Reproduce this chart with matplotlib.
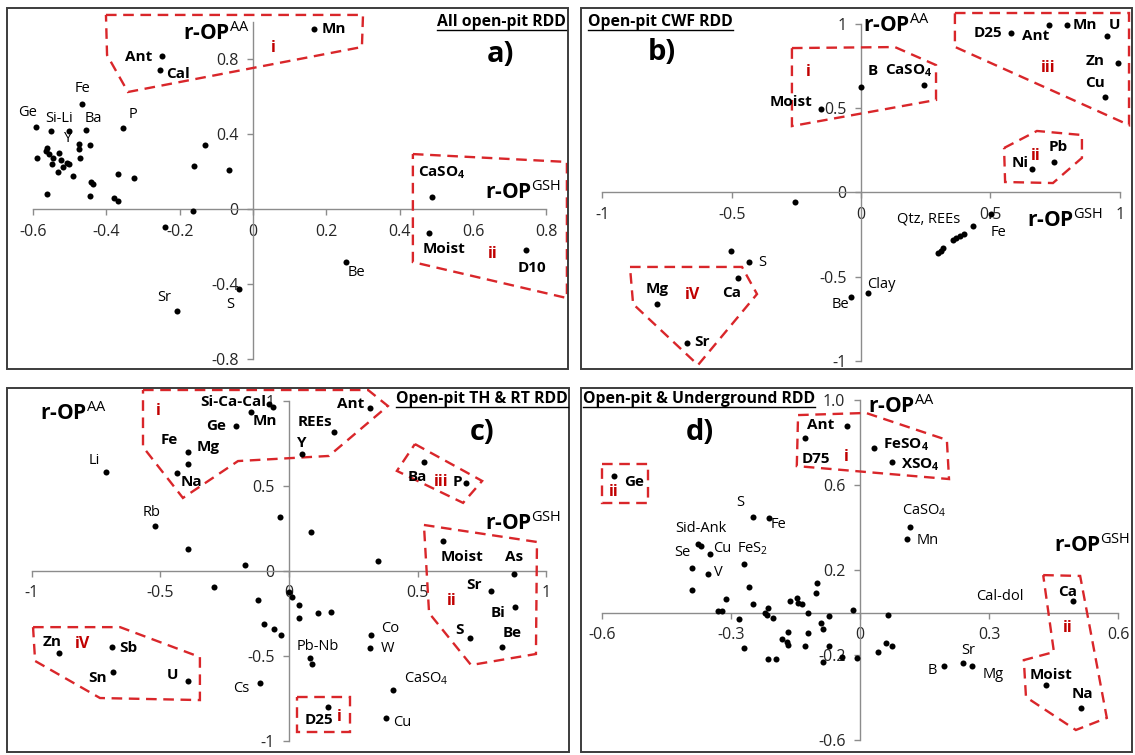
import matplotlib
matplotlib.use("Agg")
import matplotlib.pyplot as plt
from matplotlib.patches import Polygon, Rectangle
from matplotlib.lines import Line2D

plt.rcParams.update({
    "font.family": "Open Sans",
    "mathtext.fontset": "custom",
    "mathtext.rm": "Open Sans",
    "mathtext.bf": "Open Sans:bold",
    "mathtext.it": "Open Sans:italic",
})

W, H = 1135, 755
DASH_RED = "#D9262A"
TEXT_RED = "#C00000"
AXIS_GREY = "#8C8C8C"

# ---------------- panel a: all open-pit RDD ----------------
a_x = [-0.247, -0.253, 0.166, -0.467, -0.593, -0.552, -0.503, -0.455, -0.354,
       -0.206, -0.037, 0.253, 0.487, 0.480, 0.744,
       -0.474, -0.445, -0.475, -0.130, -0.590, -0.561, -0.564, -0.555, -0.528,
       -0.545, -0.548, -0.523, -0.508, -0.501, -0.519, -0.531, -0.471, -0.490,
       -0.369, -0.324, -0.160, -0.442, -0.437, -0.563, -0.445, -0.379, -0.369,
       -0.164, -0.065, -0.239]
a_y = [0.818, 0.743, 0.958, 0.558, 0.439, 0.416, 0.416, 0.420, 0.434,
       -0.542, -0.428, -0.281, 0.062, -0.130, -0.219,
       0.345, 0.341, 0.318, 0.341, 0.274, 0.324, 0.309, 0.292, 0.297,
       0.270, 0.240, 0.261, 0.244, 0.238, 0.226, 0.199, 0.270, 0.178,
       0.188, 0.164, 0.228, 0.142, 0.133, 0.080, 0.071, 0.057, 0.044,
       -0.011, 0.208, -0.096]
a_xticks = [-0.6, -0.4, -0.2, 0, 0.2, 0.4, 0.6, 0.8]
a_xticklabels = ["-0.6", "-0.4", "-0.2", "0", "0.2", "0.4", "0.6", "0.8"]
a_yticks = [-0.8, -0.4, 0, 0.4, 0.8]
a_yticklabels = ["-0.8", "-0.4", "0", "0.4", "0.8"]
a_groups = [
    [(-0.401, 1.035), (0.300, 1.035), (0.297, 0.864), (-0.341, 0.624), (-0.398, 0.821)],
    [(0.436, 0.293), (0.856, 0.251), (0.856, -0.475), (0.436, -0.283)],
]

# ---------------- panel b: open-pit CWF RDD ----------------
b_x = [-0.155, 0.000, 0.244, 0.580, 0.726, 0.798, 0.950, 0.995, 0.943, 0.746,
       0.660, 0.501, 0.026, -0.040, -0.433, -0.477, -0.790, -0.674,
       -0.255, -0.503, 0.434, 0.398, 0.383, 0.367, 0.357, 0.318, 0.309, 0.299]
b_y = [0.494, 0.627, 0.637, 0.944, 0.990, 0.995, 0.928, 0.769, 0.567, 0.178,
       0.137, -0.129, -0.600, -0.623, -0.412, -0.507, -0.663, -0.893,
       -0.059, -0.347, -0.200, -0.247, -0.259, -0.271, -0.283, -0.332, -0.347, -0.358]
b_ticks = [-1, -0.5, 0, 0.5, 1]
b_ticklabels = ["-1", "-0.5", "0", "0.5", "1"]
b_groups = [
    [(-0.267, 0.856), (0.131, 0.862), (0.290, 0.755), (0.290, 0.548), (-0.267, 0.393)],
    [(0.363, 1.064), (1.036, 1.064), (1.036, 0.399), (0.363, 0.863)],
    [(0.553, 0.263), (0.680, 0.364), (0.854, 0.340), (0.854, 0.204), (0.742, 0.055), (0.557, 0.061)],
    [(-0.893, -0.443), (-0.460, -0.443), (-0.402, -0.604), (-0.630, -1.025), (-0.881, -0.663)],
]

# ---------------- panel c: open-pit TH & RT RDD ----------------
c_x = [-0.711, -0.520, -0.391, -0.391, -0.436, -0.207, -0.149, -0.076, -0.061,
       -0.892, -0.689, -0.685, -0.393, -0.113, 0.315, 0.175, 0.049, 0.524, 0.687,
       0.597, 0.875, 0.783, 0.879, 0.703, 0.826, 0.317, 0.315, 0.405, 0.377, 0.150,
       0.082, 0.088,
       -0.391, -0.171, -0.035, -0.290, -0.119, -0.097, -0.058, -0.031, 0.084,
       0.347, 0.001, 0.013, 0.039, 0.039, 0.111, 0.163]
c_y = [0.582, 0.263, 0.700, 0.628, 0.573, 0.853, 0.935, 0.979, 0.965,
       -0.486, -0.451, -0.594, -0.649, -0.662, 0.959, 0.814, 0.686, 0.641, 0.514,
       0.176, -0.019, -0.118, -0.212, -0.394, -0.447, -0.378, -0.457, -0.702, -0.865, -0.804,
       -0.515, -0.549,
       0.128, 0.034, 0.318, -0.094, -0.172, -0.315, -0.343, -0.378, 0.226,
       0.057, -0.124, -0.157, -0.204, -0.280, -0.251, -0.245]
c_groups = [
    [(-0.567, 1.063), (0.307, 1.063), (0.384, 0.969), (0.155, 0.675), (-0.198, 0.645),
     (-0.412, 0.428), (-0.567, 0.728)],
    [(0.489, 0.745), (0.750, 0.528), (0.676, 0.399), (0.419, 0.587)],
    [(0.524, 0.269), (0.963, 0.169), (0.959, -0.490), (0.707, -0.555), (0.544, -0.249)],
    [(0.031, -0.743), (0.237, -0.743), (0.237, -0.949), (0.031, -0.949)],
    [(-0.994, -0.332), (-0.656, -0.332), (-0.346, -0.508), (-0.346, -0.761),
     (-0.734, -0.749), (-0.986, -0.531)],
]

# ---------------- panel d: open-pit & underground RDD ----------------
d_x = [-0.031, -0.128, -0.571, -0.250, -0.212, -0.377, -0.370, -0.350, -0.391,
       -0.354, -0.269, 0.033, 0.075, 0.116, 0.110, 0.495, 0.433, 0.514, 0.196,
       0.240, 0.261,
       -0.391, -0.312, -0.330, -0.322, -0.281, -0.258, -0.248, -0.269, -0.213,
       -0.221, -0.217, -0.202, -0.163, -0.147, -0.145, -0.136, -0.120, -0.101,
       -0.102, -0.091, -0.085, -0.071, -0.167, -0.182, -0.170, -0.168, -0.122,
       -0.128, -0.213, -0.196, -0.087, -0.071, -0.043, -0.006, -0.016, 0.043,
       0.066, 0.060, 0.074]
d_y = [0.878, 0.820, 0.644, 0.448, 0.443, 0.322, 0.314, 0.274, 0.211,
       0.181, 0.227, 0.773, 0.707, 0.404, 0.344, 0.054, -0.341, -0.448, -0.250,
       -0.239, -0.252,
       0.104, 0.062, 0.006, 0.007, -0.032, 0.119, 0.040, -0.166, 0.023,
       -0.004, -0.012, -0.024, 0.054, 0.070, 0.046, 0.040, -0.004, 0.140,
       0.090, -0.051, -0.079, -0.016, -0.090, -0.126, -0.137, -0.153, -0.098,
       -0.158, -0.220, -0.220, -0.231, -0.158, -0.211, -0.213, 0.010, -0.184,
       -0.012, -0.142, -0.158]
d_xticks = [-0.6, -0.3, 0, 0.3, 0.6]
d_xticklabels = ["-0.6", "-0.3", "0", "0.3", "0.6"]
d_yticks = [-0.6, -0.2, 0.2, 0.6, 1.0]
d_yticklabels = ["-0.6", "-0.2", "0.2", "0.6", "1.0"]
d_groups = [
    [(-0.144, 0.929), (0.014, 0.939), (0.202, 0.812), (0.207, 0.628), (-0.147, 0.689)],
    [(-0.600, 0.699), (-0.493, 0.699), (-0.493, 0.515), (-0.600, 0.515)],
    [(0.426, 0.176), (0.512, 0.172), (0.574, -0.496), (0.502, -0.553), (0.386, -0.398),
     (0.381, -0.224), (0.451, -0.186)],
]

AA = r"r-OP$^{\mathrm{AA}}$"
GSH = r"r-OP$^{\mathrm{GSH}}$"
SO4b = r"CaSO$_{\mathbf{4}}$"
SO4 = r"CaSO$_{\mathrm{4}}$"

# label text, centre (figure pixels from top-left), bold
a_labels = [("Ant", 139, 57, 1), ("Cal", 178, 74, 1), ("Mn", 334, 29, 1),
            ("Fe", 83, 89, 0), ("Ge", 28, 112, 0), ("Si-Li", 59, 118, 0),
            ("Ba", 93, 118, 0), ("Y", 68, 138, 0), ("P", 133, 115, 0),
            ("Sr", 164, 298, 0), ("S", 230, 304, 0), ("Be", 356, 273, 0),
            (SO4b, 442, 173, 1), ("Moist", 444, 249, 1), ("D10", 532, 268, 1)]
b_labels = [("Moist", 791, 102, 1), ("B", 873, 71, 1), (SO4b, 909, 71, 1),
            ("D25", 988, 33, 1), ("Ant", 1036, 36, 1), ("Mn", 1085, 25, 1),
            ("U", 1114, 25, 1), ("Zn", 1095, 61, 1), ("Cu", 1095, 83, 1),
            ("Pb", 1058, 147, 1), ("Ni", 1020, 163, 1), ("Qtz, REEs", 929, 219, 0),
            ("Fe", 998, 232, 0), ("Clay", 881, 285, 0), ("Be", 840, 304, 0),
            ("S", 762, 263, 0), ("Ca", 732, 293, 1), ("Mg", 657, 289, 1),
            ("Sr", 702, 342, 1)]
c_labels = [("Si-Ca-Cal", 233, 402, 1), ("Ge", 216, 426, 1), ("Mn", 265, 421, 1),
            ("Fe", 169, 440, 1), ("Mg", 208, 447, 1), ("Na", 191, 482, 1),
            ("Li", 94, 460, 0), ("Rb", 152, 513, 0), ("Zn", 52, 642, 1),
            ("Sb", 128, 648, 1), ("Sn", 98, 678, 1), ("U", 172, 675, 1),
            ("Cs", 241, 688, 0), ("Ant", 351, 404, 1), ("REEs", 315, 422, 1),
            ("Y", 302, 443, 1), ("Ba", 417, 477, 1), ("P", 457, 482, 1),
            ("Moist", 462, 557, 1), ("As", 514, 557, 1), ("Sr", 474, 585, 1),
            ("Bi", 498, 613, 1), ("S", 459, 630, 1), ("Be", 512, 633, 1),
            ("Co", 390, 628, 0), ("W", 388, 648, 0), ("Pb-Nb", 318, 647, 0),
            (SO4, 426, 679, 0), ("Cu", 402, 722, 0), ("D25", 319, 720, 1)]
d_labels = [("Ant", 821, 425, 1), ("D75", 816, 459, 1), ("Ge", 634, 482, 1),
            ("S", 740, 503, 0), ("Fe", 779, 525, 0), ("Sid-Ank", 701, 528, 0),
            ("Se", 682, 552, 0), ("Cu", 722, 549, 0), (r"FeS$_{\mathrm{2}}$", 753, 549, 0),
            ("V", 718, 572, 0), (r"FeSO$_{\mathbf{4}}$", 906, 445, 1),
            (r"XSO$_{\mathbf{4}}$", 920, 465, 1), (SO4, 924, 511, 0),
            ("Mn", 928, 540, 0), ("Cal-dol", 1000, 596, 0), ("Ca", 1068, 592, 1),
            ("B", 932, 671, 0), ("Sr", 968, 650, 0), ("Mg", 993, 675, 0),
            ("Moist", 1051, 675, 1), ("Na", 1082, 694, 1)]

# group numerals
a_numerals = [("i", 273, 48), ("ii", 493, 254)]
b_numerals = [("i", 808, 72), ("iii", 1048, 68), ("ii", 1036, 156), ("iV", 693, 295)]
c_numerals = [("i", 158, 411), ("iii", 441, 482), ("ii", 452, 601), ("iV", 83, 644), ("i", 339, 717)]
d_numerals = [("i", 846, 457), ("ii", 614, 492), ("ii", 1068, 628)]

fig = plt.figure(figsize=(W / 100, H / 100), dpi=100)
fig.patch.set_facecolor("white")


def ftext(px, py, s, **kw):
    return fig.text(px / W, 1 - py / H, s, **kw)


def make_panel(frame, origin, scale, xb, yb, xt, xtl, yt, ytl):
    left, top, right, bottom = frame
    ax = fig.add_axes([left / W, 1 - bottom / H, (right - left) / W, (bottom - top) / H])
    ox, oy = origin
    sx, sy = scale
    ax.set_xlim((left - ox) / sx, (right - ox) / sx)
    ax.set_ylim((oy - bottom) / sy, (oy - top) / sy)
    for side in ("top", "right"):
        ax.spines[side].set_visible(False)
    ax.spines["left"].set_position(("data", 0))
    ax.spines["bottom"].set_position(("data", 0))
    ax.spines["left"].set_bounds(*yb)
    ax.spines["bottom"].set_bounds(*xb)
    for side in ("left", "bottom"):
        ax.spines[side].set_color(AXIS_GREY)
        ax.spines[side].set_linewidth(1.0)
    ax.set_xticks(xt, xtl)
    ax.set_yticks(yt, ytl)
    ax.tick_params(direction="out", length=4, width=1.0, color=AXIS_GREY,
                   labelsize=11.5, labelcolor="#262626", pad=6.5)
    ax.add_patch(Rectangle((0, 0), 1, 1, transform=ax.transAxes, fill=False,
                           ec="#3C3C3C", lw=1.4, clip_on=False, zorder=6))
    return ax


def populate(ax, xs, ys, groups, labels, numerals):
    ax.scatter(xs, ys, s=19, c="black", linewidths=0, zorder=4)
    for verts in groups:
        ax.add_patch(Polygon(verts, closed=True, fill=False, ec=DASH_RED, lw=1.7,
                             ls=(0, (4.5, 2.8)), clip_on=False, zorder=3))
    for s, px, py, bold in labels:
        ftext(px, py, s, ha="center", va="center",
              fontsize=11 if bold else 10.5, fontweight="bold" if bold else "normal")
    for s, px, py in numerals:
        ftext(px, py, s, ha="center", va="center", fontsize=11.5,
              fontweight="bold", color=TEXT_RED)


ax_a = make_panel((7, 8, 568, 369), (253, 209), (366.7, 187.5), (-0.6, 0.8), (-0.8, 1.0),
                  a_xticks, a_xticklabels, a_yticks, a_yticklabels)
populate(ax_a, a_x, a_y, a_groups, a_labels, a_numerals)

ax_b = make_panel((581, 8, 1132, 369), (861, 192.3), (258.7, 168.5), (-1, 1), (-1, 1),
                  b_ticks, b_ticklabels, b_ticks, b_ticklabels)
populate(ax_b, b_x, b_y, b_groups, b_labels, b_numerals)

ax_c = make_panel((7, 388, 569, 752), (289, 570.7), (257.5, 170), (-1, 1), (-1, 1),
                  b_ticks, b_ticklabels, b_ticks, b_ticklabels)
populate(ax_c, c_x, c_y, c_groups, c_labels, c_numerals)

ax_d = make_panel((581, 388, 1132, 752), (860, 612.5), (430, 212.5), (-0.6, 0.6), (-0.6, 1.0),
                  d_xticks, d_xticklabels, d_yticks, d_yticklabels)
populate(ax_d, d_x, d_y, d_groups, d_labels, d_numerals)

# axis names
for px, py, s in [(183, 40, AA), (485, 199, GSH), (863, 32, AA), (1027, 227, GSH),
                  (40, 420, AA), (485, 530, GSH), (868, 413, AA), (1054, 552, GSH)]:
    ftext(px, py, s, ha="left", va="baseline", fontsize=15, fontweight="bold")

# panel letters
for px, py, s in [(500, 55, "a)"), (662, 53, "b)"), (482, 432, "c)"), (700, 432, "d)")]:
    ftext(px, py, s, ha="center", va="center", fontsize=21, fontweight="bold")

# underlined panel titles
titles = [ftext(566, 26, "All open-pit RDD", ha="right", va="baseline", fontsize=11.3, fontweight="bold"),
          ftext(588, 26, "Open-pit CWF RDD", ha="left", va="baseline", fontsize=11.3, fontweight="bold"),
          ftext(568, 403, "Open-pit TH & RT RDD", ha="right", va="baseline", fontsize=11.3, fontweight="bold"),
          ftext(583, 403, "Open-pit & Underground RDD", ha="left", va="baseline", fontsize=11.3, fontweight="bold")]
fig.canvas.draw()
renderer = fig.canvas.get_renderer()
for t in titles:
    bb = t.get_window_extent(renderer)
    yline = bb.y0 + 0.5
    fig.add_artist(Line2D([bb.x0 / W, bb.x1 / W], [yline / H, yline / H],
                          transform=fig.transFigure, color="black", lw=1.0))

fig.savefig("out.png", dpi=100, facecolor="white")
